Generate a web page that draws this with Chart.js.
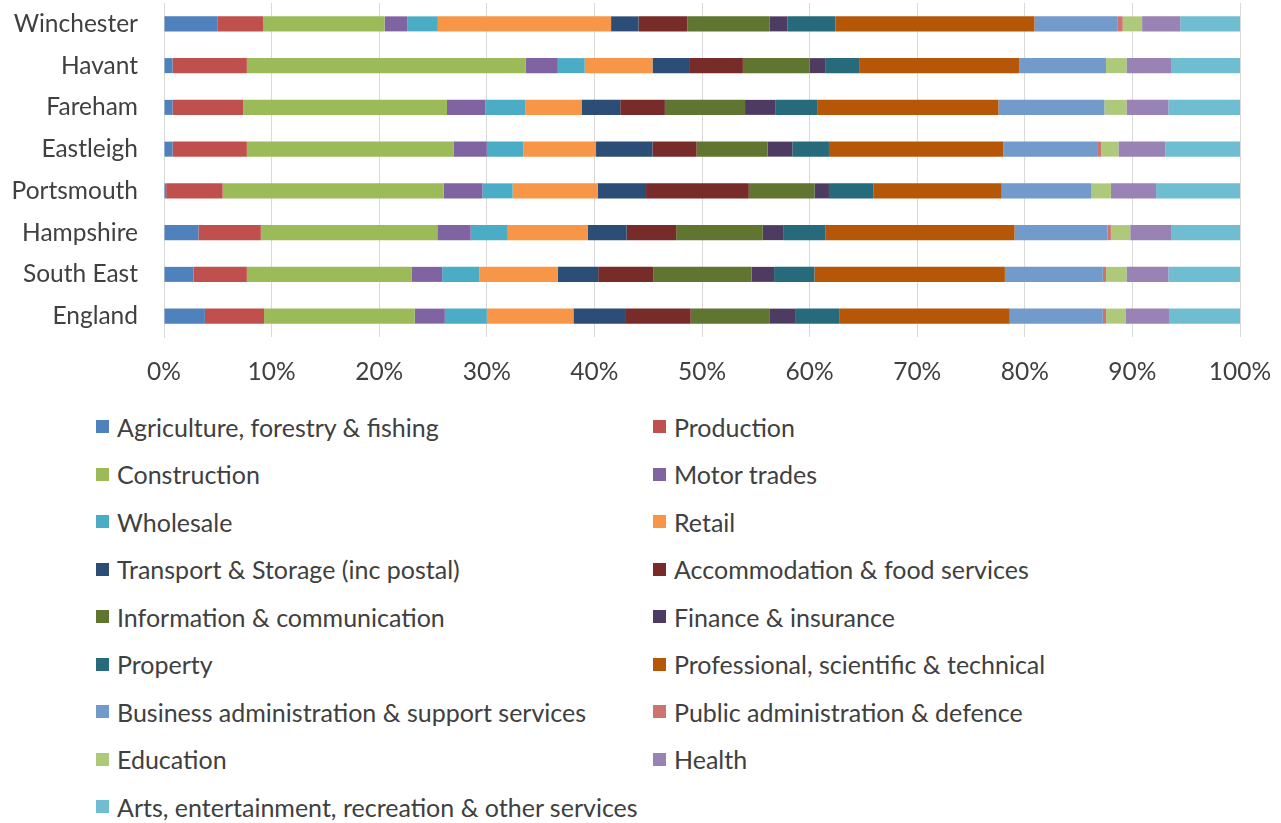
<!DOCTYPE html>
<html>
<head>
<meta charset="utf-8">
<script src="https://cdn.jsdelivr.net/npm/chart.js@4/dist/chart.umd.min.js"></script>
<style>
  html, body { margin: 0; padding: 0; background: #fff; }
  #wrap { position: relative; width: 1281px; height: 823px; overflow: hidden; }
  #chartBox { position: absolute; left: 0; top: 0; width: 1281px; height: 400px; }
  #legend { position: absolute; left: 96px; top: 403px; width: 1180px;
    display: grid; grid-template-columns: 557px 560px; grid-auto-rows: 47.5px;
    font-family: 'Lato', 'Open Sans', sans-serif; font-size: 25px; color: #404040; }
  .item { display: flex; align-items: center; white-space: nowrap; }
  .sw { width: 13px; height: 13px; margin-right: 8px; flex: none; }
</style>
</head>
<body>
<div id="wrap">
  <div id="chartBox"><canvas id="c"></canvas></div>
  <div id="legend"></div>
</div>
<script>
const categories = ['Winchester', 'Havant', 'Fareham', 'Eastleigh', 'Portsmouth', 'Hampshire', 'South East', 'England'];
const seriesNames = [
  'Agriculture, forestry & fishing', 'Production', 'Construction', 'Motor trades',
  'Wholesale', 'Retail', 'Transport & Storage (inc postal)', 'Accommodation & food services',
  'Information & communication', 'Finance & insurance', 'Property', 'Professional, scientific & technical',
  'Business administration & support services', 'Public administration & defence', 'Education', 'Health',
  'Arts, entertainment, recreation & other services'
];
const seriesColors = [
  '#4F81BD', '#C0504D', '#9BBB59', '#8064A2', '#4BACC6', '#F79646', '#2C4D75', '#772C2A',
  '#5F7530', '#4D3B62', '#276A7C', '#B65708', '#729ACA', '#CD7371', '#AFC97A', '#9983B5', '#6FBDD1'
];
// values per series, in category order (Winchester ... England), percent
const agriculture   = [5.0, 0.8, 0.8, 0.8, 0.2, 3.2, 2.75, 3.8];
const production    = [4.2, 6.9, 6.55, 6.9, 5.25, 5.8, 4.95, 5.5];
const construction  = [11.3, 25.9, 18.95, 19.2, 20.55, 16.4, 15.3, 14.0];
const motorTrades   = [2.1, 3.0, 3.55, 3.1, 3.6, 3.1, 2.85, 2.8];
const wholesale     = [2.85, 2.5, 3.75, 3.4, 2.8, 3.45, 3.45, 3.9];
const retail        = [16.1, 6.3, 5.2, 6.75, 7.9, 7.45, 7.3, 8.05];
const transport     = [2.55, 3.4, 3.6, 5.25, 4.5, 3.6, 3.75, 4.8];
const accommodation = [4.55, 5.0, 4.15, 4.1, 9.55, 4.6, 5.15, 6.1];
const information   = [7.65, 6.2, 7.45, 6.6, 6.1, 8.05, 9.1, 7.3];
const finance       = [1.65, 1.5, 2.85, 2.3, 1.35, 1.95, 2.1, 2.4];
const property      = [4.45, 3.1, 3.85, 3.4, 4.15, 3.85, 3.75, 4.15];
const professional  = [18.5, 14.9, 16.85, 16.2, 11.9, 17.6, 17.7, 15.8];
const business      = [7.75, 8.05, 9.85, 8.8, 8.35, 8.65, 9.1, 8.65];
const publicAdmin   = [0.45, 0.0, 0.0, 0.3, 0.0, 0.3, 0.3, 0.3];
const education     = [1.8, 1.9, 2.05, 1.6, 1.8, 1.8, 1.9, 1.8];
const health        = [3.55, 4.2, 3.9, 4.35, 4.2, 3.85, 3.9, 4.05];
const arts          = [5.6, 6.35, 6.65, 6.95, 7.8, 6.35, 6.65, 6.6];
const seriesValues = [agriculture, production, construction, motorTrades, wholesale, retail, transport,
  accommodation, information, finance, property, professional, business, publicAdmin, education, health, arts];
const tickValues = [0, 10, 20, 30, 40, 50, 60, 70, 80, 90, 100];

const FONT = "'Lato', 'Open Sans', sans-serif";
const TXT = '#404040';

new Chart(document.getElementById('c'), {
  type: 'bar',
  data: {
    labels: categories,
    datasets: seriesNames.map((n, i) => ({
      label: n, data: seriesValues[i], backgroundColor: seriesColors[i],
      borderWidth: 0, categoryPercentage: 1.0, barPercentage: 0.36
    }))
  },
  options: {
    indexAxis: 'y', responsive: true, maintainAspectRatio: false, animation: false,
    layout: { padding: { top: 3, right: 41, left: 0, bottom: 0 } },
    plugins: { legend: { display: false }, tooltip: { enabled: false } },
    scales: {
      x: {
        stacked: true, min: 0, max: 100,
        afterBuildTicks: (ax) => { ax.ticks = tickValues.map(v => ({ value: v })); },
        afterFit: (ax) => { ax.height = 63; ax.paddingLeft = 0; ax.paddingRight = 0; },
        grid: { color: '#D9D9D9', lineWidth: 1, drawTicks: false },
        border: { display: false },
        ticks: { padding: 20, color: TXT, font: { family: FONT, size: 24.5 }, callback: v => v + '%' }
      },
      y: {
        stacked: true,
        afterFit: (ax) => { ax.width = 164; ax.paddingTop = 0; ax.paddingBottom = 0; },
        grid: { display: false, drawTicks: false },
        border: { display: true, color: '#D9D9D9', width: 1 },
        ticks: { padding: 26, color: TXT, font: { family: FONT, size: 24.5 } }
      }
    }
  }
});

const leg = document.getElementById('legend');
seriesNames.forEach((n, i) => {
  const d = document.createElement('div');
  d.className = 'item';
  const s = document.createElement('span');
  s.className = 'sw'; s.style.background = seriesColors[i];
  const t = document.createElement('span');
  t.textContent = n;
  d.appendChild(s); d.appendChild(t);
  leg.appendChild(d);
});
</script>
</body>
</html>
